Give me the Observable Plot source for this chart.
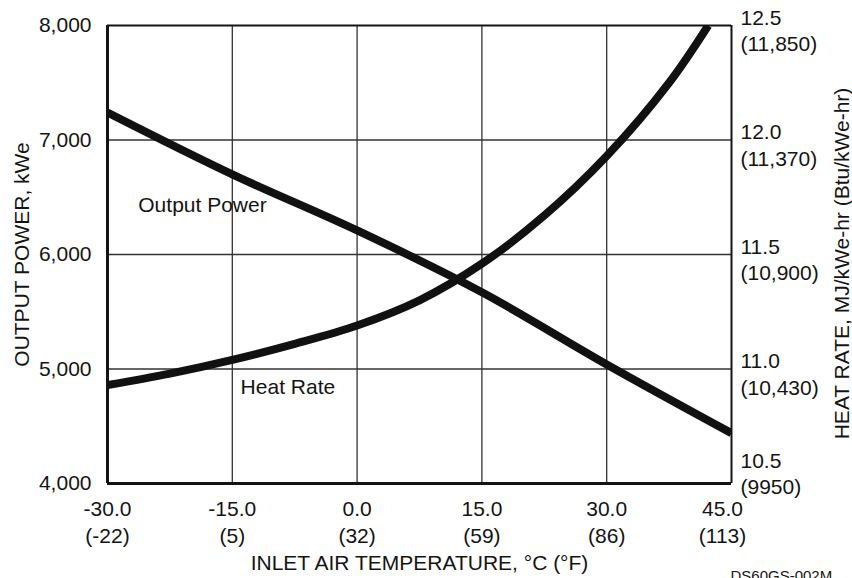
<!DOCTYPE html>
<html>
<head>
<meta charset="utf-8">
<script src="https://cdn.jsdelivr.net/npm/d3@7"></script>
<script src="https://cdn.jsdelivr.net/npm/@observablehq/plot@0.6"></script>
<style>
  html, body { margin: 0; padding: 0; background: #fff; }
  #chart { width: 852px; height: 578px; overflow: hidden; }
</style>
</head>
<body>
<div id="chart"></div>
<script>
// ---- data ----
const tempTicksC = [-30, -15, 0, 15, 30, 45];
const tempTicksF = [-22, 5, 32, 59, 86, 113];

const powerTemps = [-30, -15, 0, 15, 30, 45];
const powerKWe   = [7240, 6700, 6210, 5670, 5040, 4440];

const heatTemps = [-30, -22.5, -15, -7.5, 0, 7.5, 15, 22.5, 30, 37.5, 42.2];
const heatMJ    = [10.93, 10.98, 11.04, 11.11, 11.19, 11.30, 11.46, 11.67, 11.93, 12.25, 12.5];

const powerTicks = [4000, 5000, 6000, 7000, 8000];
const heatTicks = [10.5, 11.0, 11.5, 12.0, 12.5];
const heatTicksBtu = ["(9950)", "(10,430)", "(10,900)", "(11,370)", "(11,850)"];

const xTitle = "INLET AIR TEMPERATURE, °C (°F)";
const yTitleLeft = "OUTPUT POWER, kWe";
const yTitleRight = "HEAT RATE, MJ/kWe-hr (Btu/kWe-hr)";
const seriesLabels = [
  {text: "Output Power", x: -26.3, y: 6430},
  {text: "Heat Rate", x: -14.0, y: 4842}
];
const caption = "DS60GS-002M";

// ---- build tables ----
const powerDomain = [4000, 8000];
const heatDomain = [10.5, 12.5];
const heatToPower = d3.scaleLinear().domain(heatDomain).range(powerDomain);

const power = powerTemps.map((t, i) => ({t, v: powerKWe[i]}));
const heat = heatTemps.map((t, i) => ({t, v: heatToPower(heatMJ[i])}));
const xTicks = tempTicksC.map((c, i) => ({c, label: c.toFixed(1) + "\n(" + tempTicksF[i] + ")"}));
const rTicks = heatTicks.map((h, i) => ({y: heatToPower(h), label: h.toFixed(1) + "\n" + heatTicksBtu[i], bottom: h === heatDomain[0]}));

const ink = "#141414";
const font = "'Liberation Sans', Arial, Helvetica, sans-serif";
const fmt = d3.format(",");

const chart = Plot.plot({
  width: 852,
  height: 578,
  marginTop: 25,
  marginRight: 121,
  marginBottom: 95,
  marginLeft: 107,
  style: {fontFamily: font, fontSize: "21px", color: ink, background: "#fff"},
  x: {domain: [-30, 45], axis: null},
  y: {domain: powerDomain, axis: null},
  marks: [
    // grid
    Plot.ruleX(tempTicksC.slice(1, -1), {stroke: "#333", strokeWidth: 1.3}),
    Plot.ruleY(powerTicks.slice(1, -1), {stroke: "#333", strokeWidth: 1.3}),
    // frame
    Plot.ruleX([-30], {stroke: ink, strokeWidth: 3}),
    Plot.ruleX([45], {stroke: ink, strokeWidth: 2}),
    Plot.ruleY([4000], {stroke: ink, strokeWidth: 3}),
    Plot.ruleY([8000], {stroke: ink, strokeWidth: 2}),
    // series
    Plot.line(power, {x: "t", y: "v", stroke: "#111", strokeWidth: 8, curve: "catmull-rom", strokeLinecap: "butt", clip: "frame"}),
    Plot.line(heat, {x: "t", y: "v", stroke: "#111", strokeWidth: 8, curve: "catmull-rom", strokeLinecap: "butt", clip: "frame"}),
    // series labels
    Plot.text(seriesLabels, {x: "x", y: "y", text: "text", textAnchor: "start", fontSize: 21, fill: ink}),
    // left axis
    Plot.axisY({ticks: powerTicks, tickFormat: fmt, tickSize: 0, tickPadding: 16, fontSize: 21, label: null, fill: ink}),
    // right axis (two-line labels)
    Plot.text(rTicks.filter(d => !d.bottom), {y: "y", text: "label", frameAnchor: "right", textAnchor: "start", dx: 9, dy: 4, lineHeight: 1.25, fontSize: 21, fill: ink}),
    Plot.text(rTicks.filter(d => d.bottom), {y: "y", text: "label", frameAnchor: "right", textAnchor: "start", dx: 9, dy: -11, lineHeight: 1.25, fontSize: 21, fill: ink}),
    // bottom axis (two-line labels)
    Plot.text(xTicks.slice(0, -1), {x: "c", text: "label", frameAnchor: "bottom", lineAnchor: "top", dy: 13, lineHeight: 1.29, fontSize: 21, fill: ink}),
    Plot.text(xTicks.slice(-1), {x: "c", text: "label", frameAnchor: "bottom", lineAnchor: "top", dx: -9, dy: 13, lineHeight: 1.29, fontSize: 21, fill: ink}),
    // axis titles
    Plot.text([xTitle], {frameAnchor: "bottom", lineAnchor: "top", dy: 72, fontSize: 21, fill: ink}),
    Plot.text([yTitleLeft], {frameAnchor: "left", textAnchor: "middle", rotate: -90, dx: -85, fontSize: 21, fill: ink}),
    Plot.text([yTitleRight], {frameAnchor: "right", textAnchor: "middle", rotate: -90, dx: 111, dy: 9, fontSize: 21, fill: ink}),
    // caption
    Plot.text([caption], {frameAnchor: "bottom-right", textAnchor: "start", lineAnchor: "top", dx: -1, dy: 87, fontSize: 15, fill: ink})
  ]
});
document.getElementById("chart").appendChild(chart);
</script>
</body>
</html>
